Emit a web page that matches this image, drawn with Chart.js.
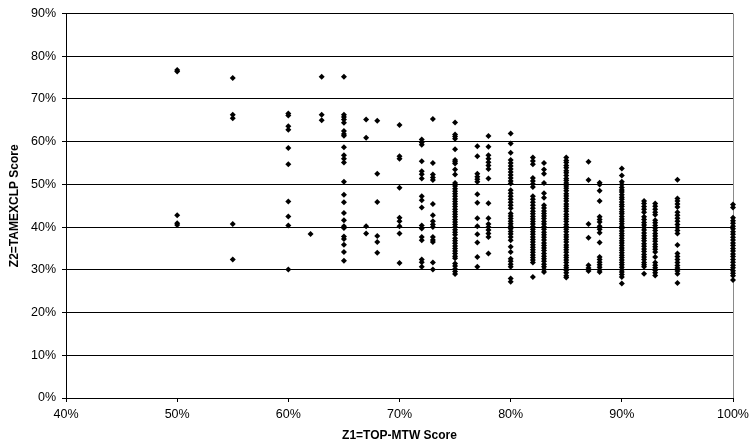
<!DOCTYPE html>
<html>
<head>
<meta charset="utf-8">
<script src="https://cdn.jsdelivr.net/npm/chart.js@4"></script>
<style>
  html, body { margin: 0; padding: 0; background: #fff; }
  #wrap { width: 749px; height: 445px; }
</style>
</head>
<body>
<div id="wrap"><canvas id="chart"></canvas></div>
<script>
// Z1 (TOP-MTW) score columns, in %
const topScores = [50, 55, 60, 62, 63, 65, 67, 68, 70, 72, 73, 75, 77, 78, 80, 82, 83, 85, 87, 88, 90, 92, 93, 95, 100];

// Z2 (TAMEXCLP) scores for each column, in %
const tamex50 = [76.8, 76.4, 42.8, 40.9, 40.5];
const tamex55 = [74.9, 66.3, 65.5, 40.7, 32.4];
const tamex60 = [66.6, 66.1, 63.6, 62.8, 58.5, 54.7, 46.0, 42.5, 40.4, 30.1];
const tamex62 = [38.4];
const tamex63 = [75.2, 66.3, 65.0];
const tamex65 = [75.2, 66.3, 65.8, 65.2, 64.4, 62.5, 61.8, 61.4, 58.7, 56.8, 56.0, 55.1, 50.6, 47.6, 45.8, 43.3, 41.6, 40.2, 39.8, 37.8, 37.2, 35.9, 34.2, 32.1];
const tamex67 = [65.2, 60.9, 40.2, 38.5];
const tamex68 = [64.9, 52.5, 45.9, 37.9, 36.5, 34.0];
const tamex70 = [63.9, 56.6, 56.0, 49.2, 42.2, 41.4, 40.2, 38.5, 31.6];
const tamex72 = [60.5, 59.8, 59.3, 55.4, 53.1, 52.4, 51.4, 47.2, 46.3, 44.6, 40.4, 39.7, 37.7, 36.9, 32.4, 31.8, 30.7];
const tamex73 = [65.3, 55.0, 52.3, 51.6, 51.0, 45.4, 42.8, 41.4, 40.6, 40.0, 37.7, 37.0, 36.5, 31.7, 30.1];
const tamex75 = [64.5, 61.7, 61.2, 60.7, 58.2, 55.7, 55.3, 54.9, 53.5, 52.3, 50.3, 49.6, 49.0, 48.4, 47.8, 47.2, 46.6, 46.0, 45.4, 44.8, 44.2, 43.6, 43.0, 42.4, 41.8, 41.2, 40.6, 40.0, 39.4, 38.8, 38.2, 37.4, 36.8, 36.2, 35.6, 35.0, 34.4, 33.8, 33.2, 32.7, 31.5, 30.9, 30.2, 29.6, 29.0];
const tamex77 = [58.9, 56.6, 52.5, 51.8, 51.2, 50.6, 47.7, 45.7, 42.1, 40.2, 38.3, 36.4, 33.0, 30.7];
const tamex78 = [61.3, 58.8, 56.8, 56.0, 55.2, 54.4, 53.6, 51.4, 45.6, 42.1, 40.7, 40.0, 39.3, 38.5, 37.7, 33.8];
const tamex80 = [61.9, 59.6, 57.4, 55.7, 55.0, 54.3, 53.6, 52.9, 52.2, 51.5, 50.8, 50.2, 48.6, 47.9, 47.2, 46.5, 45.8, 45.1, 44.4, 43.2, 42.6, 42.0, 41.4, 40.8, 40.2, 39.6, 39.0, 38.4, 37.7, 36.9, 35.4, 34.2, 32.6, 32.0, 31.3, 30.7, 28.0, 27.2];
const tamex82 = [56.3, 55.5, 54.7, 51.5, 50.8, 50.1, 49.4, 47.2, 46.5, 45.8, 45.1, 44.4, 43.7, 43.1, 42.5, 41.9, 41.3, 40.7, 40.1, 39.5, 38.9, 38.3, 37.7, 37.1, 36.5, 35.9, 35.3, 34.7, 34.1, 33.5, 32.9, 32.3, 31.7, 28.3];
const tamex83 = [55.0, 53.5, 52.5, 50.3, 47.9, 46.9, 45.1, 44.5, 43.8, 43.2, 42.6, 42.0, 41.3, 40.7, 40.1, 39.5, 38.8, 38.2, 37.6, 37.0, 36.3, 35.7, 35.1, 34.5, 33.8, 33.2, 32.6, 32.0, 31.3, 30.7, 30.1, 29.5];
const tamex85 = [56.3, 55.6, 55.1, 54.4, 53.9, 53.2, 52.7, 52.1, 51.4, 50.9, 50.3, 49.6, 49.1, 48.5, 47.8, 47.3, 46.7, 46.1, 45.4, 44.9, 44.3, 43.7, 43.0, 42.5, 41.9, 41.3, 40.6, 40.1, 39.5, 38.9, 38.2, 37.7, 37.1, 36.5, 35.8, 35.3, 34.7, 34.1, 33.4, 32.9, 32.3, 31.7, 31.0, 30.5, 29.9, 29.3, 28.6, 28.2];
const tamex87 = [55.3, 51.0, 40.7, 37.5, 31.1, 30.4, 29.7];
const tamex88 = [50.4, 50.0, 48.5, 46.1, 42.4, 41.8, 41.2, 40.2, 39.5, 38.7, 36.4, 33.0, 32.4, 31.8, 31.2, 30.6, 30.0, 29.5];
const tamex90 = [53.7, 52.1, 50.6, 50.0, 49.3, 48.7, 48.2, 47.6, 47.0, 46.5, 45.9, 45.3, 44.8, 44.2, 43.6, 43.1, 42.5, 41.9, 41.4, 40.8, 40.2, 39.7, 39.1, 38.5, 38.0, 37.4, 36.8, 36.3, 35.7, 35.1, 34.6, 34.0, 33.4, 32.9, 32.3, 31.7, 31.2, 30.6, 30.0, 29.5, 28.9, 28.3, 26.8];
const tamex92 = [46.1, 45.5, 44.8, 44.2, 43.5, 42.4, 41.8, 41.1, 40.5, 39.9, 39.3, 38.6, 38.0, 37.4, 36.8, 36.1, 35.5, 34.9, 34.3, 33.6, 33.0, 32.4, 31.7, 31.2, 30.7, 29.1];
const tamex93 = [45.5, 44.9, 44.2, 43.5, 42.9, 41.6, 41.0, 40.4, 39.8, 39.2, 38.5, 37.9, 37.3, 36.7, 36.0, 35.4, 34.8, 34.2, 33.0, 31.7, 31.1, 30.5, 29.9, 29.3, 28.7];
const tamex95 = [51.1, 46.7, 46.1, 45.4, 44.7, 43.5, 42.8, 42.1, 41.4, 40.6, 39.9, 39.2, 38.5, 35.8, 33.8, 33.1, 32.4, 31.7, 31.0, 30.4, 29.7, 29.1, 26.9];
const tamex100 = [45.3, 44.6, 42.2, 41.5, 40.9, 40.2, 39.6, 38.9, 38.3, 37.6, 37.0, 36.3, 35.7, 35.0, 34.4, 33.7, 33.1, 32.4, 31.8, 31.1, 30.5, 29.8, 29.2, 28.6, 27.6];

const tamexColumns = [tamex50, tamex55, tamex60, tamex62, tamex63, tamex65, tamex67, tamex68, tamex70, tamex72, tamex73, tamex75, tamex77, tamex78, tamex80, tamex82, tamex83, tamex85, tamex87, tamex88, tamex90, tamex92, tamex93, tamex95, tamex100];

// Axis ranges (%)
const xMin = 40, xMax = 100, yMin = 0, yMax = 90, tickStep = 10;

// build points from the columns
const points = [];
topScores.forEach((z1, i) => {
    tamexColumns[i].forEach(z2 => points.push({ x: z1, y: z2 }));
});

// grey frame on the right edge of the plot, like the original
const rightBorder = {
    id: "rightBorder",
    beforeDatasetsDraw(chart) {
        const { ctx, chartArea } = chart;
        ctx.save();
        ctx.strokeStyle = "#8a8a8a";
        ctx.lineWidth = 1;
        ctx.beginPath();
        const x = Math.round(chartArea.right) + 0.5;
        ctx.moveTo(x, chartArea.top);
        ctx.lineTo(x, chartArea.bottom);
        ctx.stroke();
        ctx.restore();
    }
};

const font = "'Liberation Sans', Arial, sans-serif";

new Chart(document.getElementById("chart"), {
    type: "scatter",
    data: {
        datasets: [{
            data: points,
            clip: false,
            pointStyle: "rectRot",
            pointRadius: 3,
            pointHoverRadius: 3,
            backgroundColor: "#000",
            borderColor: "#000",
            borderWidth: 0
        }]
    },
    options: {
        responsive: true,
        maintainAspectRatio: false,
        animation: false,
        layout: { padding: { top: 13, right: 0, left: 0, bottom: 0 } },
        plugins: { legend: { display: false }, tooltip: { enabled: false } },
        scales: {
            x: {
                type: "linear",
                min: xMin,
                max: xMax,
                afterFit: (scale) => { scale.height = 47; scale.paddingRight = 16; },
                ticks: {
                    stepSize: tickStep,
                    padding: 5,
                    color: "#000",
                    font: { family: font, size: 12.5 },
                    callback: (v) => v + "%"
                },
                grid: { drawOnChartArea: false, drawTicks: true, tickLength: 4, color: "#000" },
                border: { display: true, color: "#000", width: 1 },
                title: {
                    display: true,
                    text: "Z1=TOP-MTW Score",
                    color: "#000",
                    font: { family: font, size: 12, weight: "bold" },
                    padding: { top: 0, bottom: 2 }
                }
            },
            y: {
                min: yMin,
                max: yMax,
                afterFit: (scale) => { scale.width = 66; },
                ticks: {
                    stepSize: tickStep,
                    padding: 6,
                    color: "#000",
                    font: { family: font, size: 12.5 },
                    callback: (v) => v + "%"
                },
                grid: { color: "#000", lineWidth: 1, tickLength: 4 },
                border: { display: true, color: "#000", width: 1 },
                title: {
                    display: true,
                    text: "Z2=TAMEXCLP Score",
                    color: "#000",
                    font: { family: font, size: 12, weight: "bold" },
                    padding: { top: 7, bottom: 0 }
                }
            }
        }
    },
    plugins: [rightBorder]
});
</script>
</body>
</html>
